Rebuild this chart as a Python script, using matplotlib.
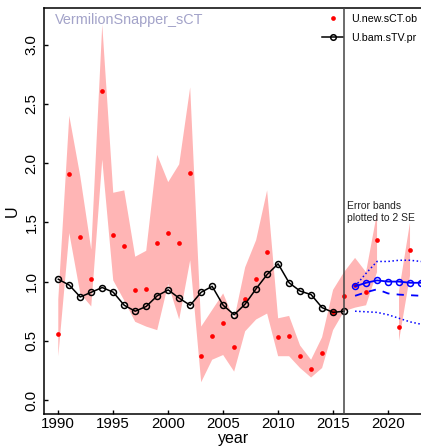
import numpy as np
import matplotlib
matplotlib.use("Agg")
import matplotlib.pyplot as plt
from matplotlib.lines import Line2D

plt.rcParams['font.family'] = ['Liberation Sans', 'DejaVu Sans']

nan = np.nan

# observed index (red points) and its 2 SE band
years_obs = np.arange(1990, 2023)
u_obs = [0.56, 1.91, 1.38, 1.02, 2.61, 1.39, 1.30, 0.93, 0.94, 1.33, 1.41, 1.33, 1.92,
         0.37, 0.54, 0.65, 0.45, 0.85, 1.02, 1.25, 0.53, 0.54, 0.37, 0.26, 0.40, 0.74,
         0.88, 0.97, 0.91, 1.35, nan, 0.62, 1.27]
u_hi = [0.85, 2.40, 1.89, 1.27, 3.17, 1.75, 1.77, 1.21, 1.26, 2.07, 1.84, 1.99, 2.64,
        0.62, 0.76, 0.90, 0.68, 1.12, 1.35, 1.77, 0.69, 0.71, 0.46, 0.34, 0.53, 0.93,
        1.08, 1.20, 1.08, 1.58, nan, 0.92, 1.50]
u_lo = [0.37, 1.41, 0.90, 0.79, 2.03, 1.01, 0.84, 0.66, 0.62, 0.59, 0.98, 0.68, 1.18,
        0.15, 0.34, 0.38, 0.24, 0.58, 0.68, 0.73, 0.37, 0.37, 0.27, 0.19, 0.27, 0.59,
        0.75, 0.78, 0.80, 1.08, nan, 0.50, 1.05]

# model predicted (black)
years_bam = np.arange(1990, 2017)
u_bam = [1.02, 0.97, 0.87, 0.91, 0.95, 0.91, 0.80, 0.75, 0.79, 0.88, 0.93, 0.86, 0.80,
         0.91, 0.96, 0.80, 0.72, 0.81, 0.94, 1.06, 1.15, 0.99, 0.92, 0.89, 0.78, 0.74, 0.75]

# projection (blue)
years_pro = np.arange(2017, 2025)
u_pro = [0.96, 0.99, 1.01, 1.00, 1.00, 0.99, 0.99, 0.99]
u_pro_med = [0.88, 0.91, 0.935, 0.90, 0.89, 0.885, 0.88, 0.88]
u_pro_hi = [0.96, 1.07, 1.17, 1.17, 1.18, 1.18, 1.17, 1.17]
u_pro_lo = [0.75, 0.745, 0.74, 0.72, 0.69, 0.66, 0.64, 0.62]

W, H = 421, 447
fig = plt.figure(figsize=(W / 100, H / 100), dpi=100)
# axes runs past the right edge of the figure, like the cropped original
ax = fig.add_axes([44 / W, 33 / H, 399 / W, 406 / H])

ax.fill_between(years_obs, u_lo, u_hi, color='#FFB5B5', lw=0)
ax.plot(years_obs, u_obs, 'o', color='red', ms=3.4, mec='none', zorder=3)
ax.plot(years_bam, u_bam, '-o', color='black', lw=1.1, ms=4.3, mfc='none', mew=1.1, zorder=4)
ax.plot(years_pro, u_pro_hi, ':', color='blue', lw=1.1, zorder=4)
ax.plot(years_pro, u_pro_lo, ':', color='blue', lw=1.1, zorder=4)
ax.plot(years_pro, u_pro_med, '--', color='blue', lw=1.3, dashes=(4, 4), zorder=4)
ax.plot(years_pro, u_pro, '-o', color='blue', lw=1.3, ms=4.3, mfc='none', mew=1.1, zorder=5)
ax.axvline(2016, color='#444444', lw=1.1, zorder=6)

ax.set_xlim(1988.7, 2025)
ax.set_ylim(-0.118, 3.31)
ax.set_xticks([1990, 1995, 2000, 2005, 2010, 2015, 2020])
ax.set_yticks([0.0, 0.5, 1.0, 1.5, 2.0, 2.5, 3.0])
ax.set_yticklabels(['0.0', '0.5', '1.0', '1.5', '2.0', '2.5', '3.0'], rotation=90, va='center')
ax.tick_params(direction='in', length=3, width=1, labelsize=10.8, pad=2)
ax.tick_params(axis='y', pad=4)
for s in ax.spines.values():
    s.set_linewidth(1.1)

fig.text(55 / W, 1 - 20 / H, 'VermilionSnapper_sCT', color='#A3A3C9', fontsize=10.4, va='center')
fig.text(347 / W, 1 - 201 / H, 'Error bands\nplotted to 2 SE', fontsize=7.5, va='top',
         color='#222222', linespacing=1.25)
fig.text(234 / W, 1 - 439 / H, 'year', fontsize=11.5, ha='center', va='center')
fig.text(12 / W, 1 - 211 / H, 'U', fontsize=11.5, ha='center', va='center', rotation=90)

handles = [Line2D([], [], ls='none', marker='o', color='red', ms=3.4, mec='none'),
           Line2D([], [], ls='-', marker='o', color='black', lw=1.1, ms=4, mfc='none', mew=1.1)]
ax.legend(handles, ['U.new.sCT.ob', 'U.bam.sTV.pr'], loc='upper left',
          bbox_to_anchor=(322 / W, 1 - 14 / H), bbox_transform=fig.transFigure,
          frameon=False, fontsize=7.7, handlelength=2.0, handletextpad=0.7,
          borderpad=0, borderaxespad=0, labelspacing=0.85, numpoints=1)

fig.savefig('out.png', dpi=100)
